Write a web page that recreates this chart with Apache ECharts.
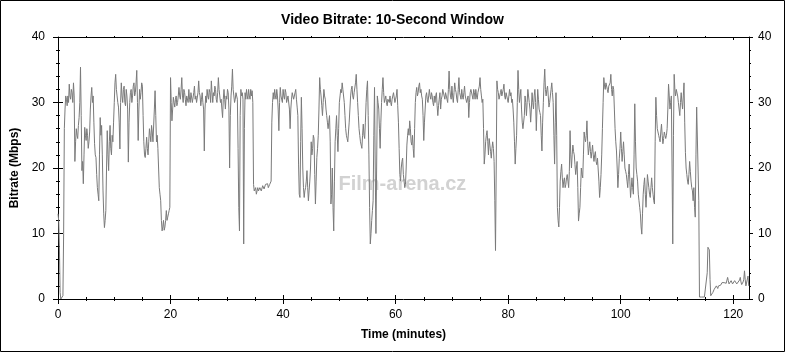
<!DOCTYPE html>
<html>
<head>
<meta charset="utf-8">
<script src="https://cdn.jsdelivr.net/npm/echarts@6/dist/echarts.min.js"></script>
<style>
html,body{margin:0;padding:0;background:#fff;}
#chart{width:785px;height:353px;}
</style>
</head>
<body>
<div id="chart"></div>
<script>
// Time step between samples (minutes)
const step = 0.125;
// Video bitrate (Mbps), 8 samples per minute
const bitrate = [
  13, 12, 8, 1, 0, 0, 0.3, 0.5,
  10, 26, 29, 31, 30.5, 29.5, 31, 30,
  32.8, 31, 30.5, 32, 31.5, 30, 33, 31,
  21, 24, 26, 25, 24.5, 26.5, 27.7, 30,
  35.4, 28, 19.6, 21, 17.6, 22, 26.2, 25,
  24.2, 26, 25, 23, 24, 25.5, 29, 31,
  32.3, 30, 31, 27, 23.7, 22, 21.6, 19,
  17, 16, 15, 22, 27.7, 25, 26.5, 22,
  16.5, 13, 10.9, 12, 13.5, 20, 25.7, 22,
  19.6, 24, 26.5, 23, 22, 25, 24, 27,
  30, 33, 34.3, 32, 31, 30, 29.3, 27,
  22.9, 30, 33, 31, 30, 32, 32.5, 30,
  29.5, 32, 31, 29, 20.9, 27, 30, 31.5,
  32, 30, 31, 32.5, 33, 31, 31.5, 33,
  34.9, 30, 24.2, 29, 32, 30.5, 31.5, 33,
  32.5, 28, 24, 22, 21.6, 23, 24.7, 23,
  22, 24, 26, 25, 24, 26.5, 25.5, 24,
  24, 29, 31.8, 28, 24, 25, 23, 20,
  17, 16, 15, 12, 10.4, 11, 12, 10.5,
  11, 12, 13.5, 12, 12.5, 13, 13.5, 14,
  33.8, 30, 27.2, 29, 30.8, 30, 29.3, 30.5,
  31, 29.5, 30, 31, 32.3, 31, 30.5, 32,
  33.8, 31, 30, 32, 31.5, 30.5, 29.5, 31,
  31, 30, 32, 30.5, 30, 31.5, 31.5, 30,
  30, 31.5, 32.5, 30.5, 31, 30, 29.8, 31.5,
  33.3, 31.5, 31, 29.5, 30.5, 31.5, 30, 29,
  22.6, 29, 31, 30, 32, 31, 30.5, 32,
  31.5, 30, 33.3, 31.5, 30, 31.5, 31, 32.5,
  32, 30.5, 30, 31.5, 33.8, 32, 31, 30,
  30.5, 29, 27.7, 30.5, 32, 30.5, 29, 31,
  30.5, 32, 31.5, 29, 20, 28, 31, 32.5,
  35.1, 32, 31, 30, 30.5, 31.5, 31.5, 30.5,
  23, 14, 10.4, 28, 32, 31, 31.5, 30.5,
  8.4, 26, 31.5, 30.5, 32, 31, 30.5, 32,
  31, 30.5, 32, 31, 31.8, 30, 17.5, 16.5,
  16.5, 17, 16, 16.5, 17, 16.5, 16.5, 17,
  17, 16.5, 16.8, 17.3, 17.5, 16.8, 17, 17.5,
  17.2, 17.8, 17.6, 17, 16.8, 17.5, 17.8, 18,
  27, 30, 31.5, 30.5, 32, 31, 30.5, 32,
  31, 29, 25.7, 30, 32.3, 31, 31, 30,
  32, 31, 30.5, 32, 31.5, 30, 29.8, 31,
  31, 29, 26, 29, 30.5, 31.5, 31.5, 30.5,
  30.5, 31.5, 32, 30.5, 29.3, 28, 20.6, 16,
  15.5, 24, 30.8, 26, 20, 17, 15.5, 16.5,
  17, 18, 19.6, 17, 15, 16.5, 18, 20,
  24, 22, 23, 25, 24.5, 19, 14.5, 18,
  21.6, 23, 25, 29, 33.8, 32, 31, 29.5,
  28, 30, 32, 31, 30.5, 29, 28, 27,
  26, 27, 28, 24, 14.5, 16, 20, 14,
  10.4, 18, 24, 26, 28, 25, 22.5, 26,
  30, 31, 32, 31.5, 33, 32, 32.3, 30,
  28, 26, 25, 24.5, 24, 25.5, 27, 29,
  31, 32, 32.5, 31, 30.5, 31.5, 31.8, 33,
  34.3, 32, 30, 28, 26, 25, 24, 23.5,
  23, 25, 26.7, 25, 24.5, 27, 30, 32,
  33.3, 28, 22, 14, 8.4, 10, 12, 13.5,
  15, 25, 32.3, 20, 10, 20, 31, 30,
  29, 26, 23, 27, 30, 32, 33.8, 31.5,
  30, 30.5, 31, 30, 29.5, 30.5, 30.8, 30,
  31, 30, 29.5, 30.5, 30.5, 31.5, 31.3, 30,
  30.5, 31, 32, 29.5, 27, 23, 19, 18,
  20, 21, 21.5, 19, 18, 17, 17.5, 20,
  23.5, 25, 26, 25, 27.2, 26, 24, 23.5,
  25, 23, 21.6, 26, 30, 31.5, 32.3, 31,
  31.5, 32.5, 33, 31.5, 32, 31, 30.5, 28,
  24.2, 27, 29, 31, 31.5, 30.5, 30, 31,
  32, 31, 30.5, 31.5, 31, 30, 29.5, 31,
  30, 31, 31.5, 29.5, 28, 29.5, 30.5, 31.5,
  29, 30.5, 31, 32, 32, 31, 30.5, 31.5,
  31.5, 30.5, 30, 32, 34.8, 32, 31, 30.5,
  32.5, 31, 30, 31.5, 33, 32, 31.5, 30.5,
  30, 32, 33.8, 31.5, 31, 30.5, 32, 31,
  30.5, 31.5, 32.5, 31, 31, 30, 30, 31,
  27.7, 30, 31.5, 32, 32.3, 31, 30.5, 32,
  31.5, 30.5, 32, 31, 30.5, 31.5, 31.8, 32.5,
  33.8, 32, 31, 30, 30.5, 26, 20.6, 22,
  24, 25, 25.7, 24, 22, 24.5, 23.5, 22.5,
  21.5, 23, 24, 23, 21, 15, 7.4, 20,
  33.3, 32, 31.5, 30.5, 30.8, 31.5, 32, 31,
  31, 32, 32.8, 31, 30.5, 31.5, 31.5, 30.5,
  30, 31, 32, 31, 31.5, 30, 30.5, 29,
  27, 24, 20.6, 23, 25, 30, 34.9, 32,
  30, 31, 32, 29, 27, 26, 25.7, 28,
  31, 30, 28, 30, 32, 31, 30, 29,
  27, 29, 31.5, 30, 29, 31, 32, 30,
  25.7, 29, 32, 30.5, 29, 28.5, 28, 25,
  22.6, 27, 30, 33, 35.1, 32, 31, 32,
  32.5, 31, 29.3, 30, 31, 32, 33, 31.5,
  30, 25, 20.6, 27, 31.5, 25, 14, 12,
  11, 14, 18, 19.5, 20.6, 18.5, 17, 18,
  18.5, 17, 17.5, 18.5, 19, 18, 17, 19.5,
  25.7, 22, 20, 22, 23.5, 22.5, 22, 20.5,
  19, 20, 21, 17, 11.9, 13, 14, 17,
  20, 19, 18.5, 22, 25.5, 24.5, 24, 25,
  27.2, 24, 22, 23, 24, 22.5, 21.5, 22.5,
  23.5, 22, 21, 22, 22.5, 21, 20.5, 21.5,
  21.5, 18, 15.5, 17, 19, 22, 26, 30,
  33.8, 32.5, 32, 33, 33, 32, 31.5, 32.5,
  32.5, 33, 34.3, 32, 31, 32.5, 32, 29,
  26, 24, 22.6, 20, 17, 19, 21.5, 23,
  25.5, 23, 21, 22.5, 24, 22, 20, 19.5,
  19, 18, 17, 19, 20.6, 18, 15.5, 17,
  18.5, 17, 16, 22, 29.8, 24, 20, 19,
  18, 16, 15, 14, 13, 11, 9.9, 13,
  16, 17.5, 18.5, 16, 14, 16.5, 19, 18,
  17, 16, 15.5, 17, 18.5, 17, 16, 15,
  14.5, 24, 30.8, 28, 26, 25.5, 25, 24.5,
  24, 25.5, 26.7, 25, 23.7, 24.5, 25.5, 25,
  24.5, 25, 26, 29, 32.8, 31, 29, 30,
  31, 20, 8.4, 25, 34.3, 32, 31, 32,
  32, 31, 30, 29, 28, 30, 31.5, 30,
  29, 31, 33, 27, 22.4, 20, 19, 18,
  17.5, 19, 21, 19.5, 18, 17, 16.5, 15,
  17, 14, 12.5, 22, 29.3, 29.5, 29, 15,
  0.3, 0.2, 0.2, 0.3, 0.3, 0.2, 0.2, 0.3,
  0.3, 0.2, 0.2, 4, 7.9, 7.8, 7.5, 3,
  0.5, 0.6, 0.8, 1, 1.2, 1.5, 1.8, 1.6,
  2, 1.8, 1.6, 2, 2.3, 2.2, 2.1, 2.4,
  2.5, 2.3, 2.2, 2.5, 2.7, 2.5, 2.4, 2.6,
  3.3, 2.8, 2.3, 2.4, 2.6, 2.8, 2.5, 2.3,
  2.2, 2.5, 2.8, 2.6, 2.5, 2.3, 2.2, 2.4,
  2.4, 2.9, 3.3, 2.6, 2.2, 2.4, 2.6, 3,
  4.3, 3, 2, 2.1, 2.2, 3.5, 2
];
// Axis ticks
const xMajorTicks = [0, 20, 40, 60, 80, 100, 120];
const xMinorTicks = [5, 10, 15, 25, 30, 35, 45, 50, 55, 65, 70, 75, 85, 90, 95, 105, 110, 115];
const yTicks = [0, 10, 20, 30, 40];
const xMax = 122.8;

const FONT = "'Liberation Sans', Arial, sans-serif";
const black = '#000';
const seriesData = bitrate.map((v, i) => [i * step, v]);

function xAx(opts) {
  return Object.assign({
    type: 'value', min: 0, max: xMax, gridIndex: 0,
    axisLine: { show: false, lineStyle: { color: black, width: 1 } },
    axisTick: { show: true, lineStyle: { color: black } },
    axisLabel: { show: false },
    splitLine: { show: false }
  }, opts);
}
function yAx(opts) {
  return Object.assign({
    type: 'value', min: 0, max: 40, interval: 10, gridIndex: 0,
    axisLine: { show: false, lineStyle: { color: black, width: 1 } },
    axisTick: { show: true, lineStyle: { color: black } },
    minorTick: { show: true, splitNumber: 5, lineStyle: { color: black } },
    axisLabel: { show: false },
    splitLine: { show: false }
  }, opts);
}

const chart = echarts.init(document.getElementById('chart'), null, { renderer: 'canvas' });
chart.setOption({
  animation: false,
  backgroundColor: '#fff',
  title: {
    text: 'Video Bitrate: 10-Second Window',
    left: 'center', top: 8,
    textStyle: { fontFamily: FONT, fontSize: 14, fontWeight: 'bold', color: black }
  },
  grid: { left: 58, right: 36, top: 37, bottom: 54, containLabel: false },
  graphic: [
    { type: 'rect', shape: { x: 0.5, y: 0.5, width: 784, height: 351 },
      style: { fill: null, stroke: black, lineWidth: 1 }, z: 100 },
    { type: 'text', left: 338, top: 174, z: 0, silent: true,
      style: { text: 'Film-arena.cz', fontFamily: FONT, fontSize: 20, fontWeight: 'bold',
               fill: '#d2d2d2', stroke: '#ffffff', lineWidth: 1 } }
  ],
  xAxis: [
    xAx({ position: 'bottom',
      axisLine: { show: true, onZero: false, lineStyle: { color: black } },
      axisTick: { show: true, inside: false, length: 5, customValues: xMajorTicks, lineStyle: { color: black } },
      axisLabel: { show: true, customValues: xMajorTicks, margin: 10, fontFamily: FONT, fontSize: 12, color: black },
      name: 'Time (minutes)', nameLocation: 'middle', nameGap: 30,
      nameTextStyle: { fontFamily: FONT, fontSize: 12, fontWeight: 'bold', color: black } }),
    xAx({ position: 'bottom', axisTick: { show: true, inside: true, length: 4, customValues: xMajorTicks, lineStyle: { color: black } } }),
    xAx({ position: 'bottom', axisTick: { show: true, inside: false, length: 2, customValues: xMinorTicks, lineStyle: { color: black } } }),
    xAx({ position: 'bottom', axisTick: { show: true, inside: true, length: 2, customValues: xMinorTicks, lineStyle: { color: black } } }),
    xAx({ position: 'top',
      axisLine: { show: true, onZero: false, lineStyle: { color: black } },
      axisTick: { show: true, inside: true, length: 3, customValues: xMajorTicks, lineStyle: { color: black } } }),
    xAx({ position: 'top', axisTick: { show: true, inside: true, length: 2, customValues: xMinorTicks, lineStyle: { color: black } } }),
    xAx({ position: 'top', axisTick: { show: true, inside: false, length: 1, customValues: xMinorTicks, lineStyle: { color: black } } })
  ],
  yAxis: [
    yAx({ position: 'left',
      axisLine: { show: true, onZero: false, lineStyle: { color: black } },
      axisTick: { show: true, inside: false, length: 5, lineStyle: { color: black } },
      minorTick: { show: true, splitNumber: 5, length: 2, lineStyle: { color: black } },
      axisLabel: { show: true, margin: 13, fontFamily: FONT, fontSize: 12, color: black },
      name: 'Bitrate (Mbps)', nameLocation: 'middle', nameGap: 31, nameRotate: 90,
      nameTextStyle: { fontFamily: FONT, fontSize: 12, fontWeight: 'bold', color: black } }),
    yAx({ position: 'left',
      axisTick: { show: true, inside: true, length: 5, lineStyle: { color: black } },
      minorTick: { show: true, splitNumber: 5, length: 2, lineStyle: { color: black } } }),
    yAx({ position: 'right',
      axisLine: { show: true, onZero: false, lineStyle: { color: black } },
      axisTick: { show: true, inside: false, length: 4, lineStyle: { color: black } },
      minorTick: { show: true, splitNumber: 5, length: 2, lineStyle: { color: black } },
      axisLabel: { show: true, margin: 9, fontFamily: FONT, fontSize: 12, color: black } }),
    yAx({ position: 'right',
      axisTick: { show: true, inside: true, length: 2, lineStyle: { color: black } },
      minorTick: { show: true, splitNumber: 5, length: 2, lineStyle: { color: black } } })
  ],
  series: [{
    type: 'line',
    xAxisIndex: 0, yAxisIndex: 0,
    data: seriesData,
    showSymbol: false,
    symbol: 'none',
    lineStyle: { color: '#7a7a7a', width: 1 },
    z: 5
  }]
});
</script>
</body>
</html>
